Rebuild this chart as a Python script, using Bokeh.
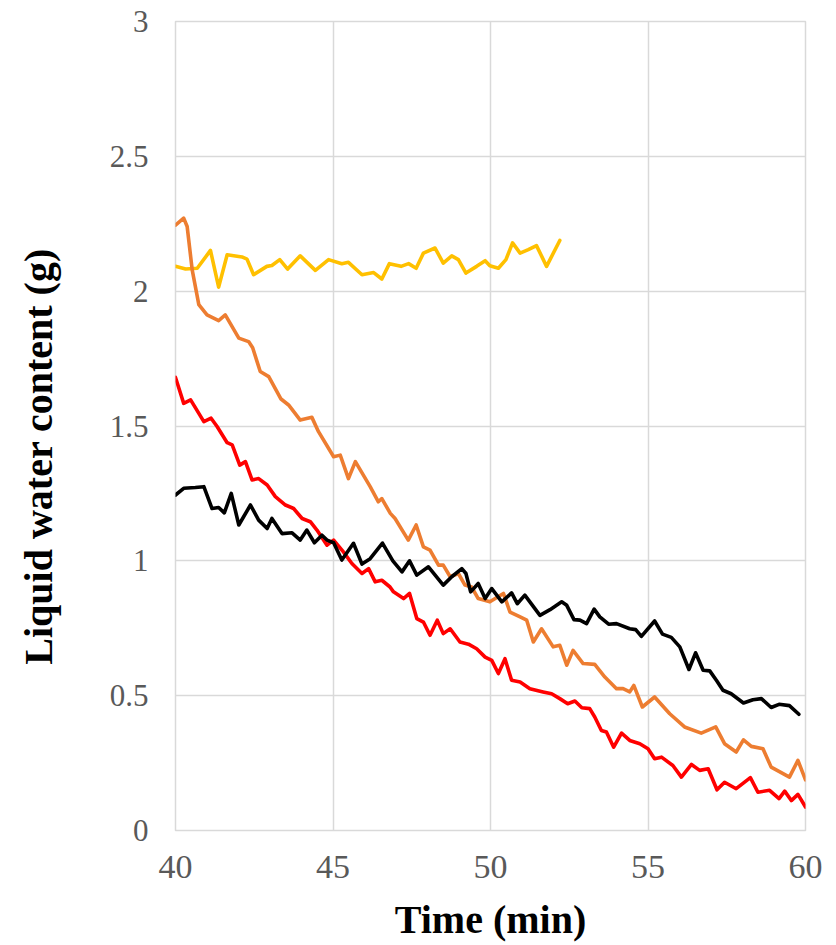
import math

from bokeh.embed import file_html
from bokeh.layouts import row
from bokeh.models import FixedTicker, Label, Range1d
from bokeh.plotting import figure
from bokeh.resources import INLINE

# Liquid water content (g) against time (min), four runs
yellow_t = [40.00, 40.32, 40.69, 41.11, 41.37, 41.64, 42.11, 42.27, 42.48, 42.90,
            43.06, 43.31, 43.56, 43.96, 44.44, 44.86, 45.28, 45.49, 45.92, 46.29,
            46.55, 46.79, 47.16, 47.40, 47.64, 47.87, 48.24, 48.50, 48.77, 48.98,
            49.22, 49.56, 49.83, 49.98, 50.25, 50.49, 50.70, 50.94, 51.20, 51.46,
            51.78, 52.20]
yellow_w = [2.092, 2.082, 2.085, 2.151, 2.015, 2.135, 2.127, 2.119, 2.061, 2.092,
            2.095, 2.117, 2.082, 2.131, 2.077, 2.117, 2.102, 2.107, 2.061, 2.069,
            2.045, 2.102, 2.092, 2.102, 2.085, 2.141, 2.160, 2.104, 2.131, 2.117,
            2.067, 2.092, 2.113, 2.094, 2.085, 2.117, 2.179, 2.141, 2.154, 2.169,
            2.092, 2.188]

orange_t = [40.00, 40.26, 40.37, 40.53, 40.74, 41.00, 41.37, 41.58, 42.01, 42.32,
            42.45, 42.69, 42.96, 43.35, 43.59, 43.96, 44.33, 44.54, 45.02, 45.23,
            45.49, 45.71, 46.18, 46.44, 46.55, 46.82, 46.97, 47.39, 47.64, 47.87,
            48.08, 48.35, 48.50, 48.72, 48.98, 49.19, 49.40, 49.61, 49.98, 50.41,
            50.62, 50.94, 51.15, 51.36, 51.62, 51.99, 52.20, 52.42, 52.62, 52.94,
            53.31, 53.63, 54.00, 54.21, 54.42, 54.55, 54.82, 55.21, 55.69, 56.16,
            56.69, 57.15, 57.43, 57.80, 58.03, 58.28, 58.65, 58.91, 59.49, 59.76,
            60.00]
orange_w = [2.245, 2.271, 2.240, 2.079, 1.950, 1.912, 1.891, 1.912, 1.826, 1.813,
            1.790, 1.702, 1.683, 1.600, 1.578, 1.522, 1.532, 1.479, 1.386, 1.392,
            1.305, 1.368, 1.275, 1.219, 1.231, 1.176, 1.157, 1.077, 1.133, 1.052,
            1.040, 0.984, 0.984, 0.941, 0.953, 0.910, 0.903, 0.860, 0.848, 0.879,
            0.810, 0.792, 0.780, 0.699, 0.748, 0.681, 0.687, 0.613, 0.668, 0.619,
            0.616, 0.569, 0.526, 0.526, 0.514, 0.538, 0.458, 0.495, 0.433, 0.384,
            0.361, 0.384, 0.322, 0.291, 0.336, 0.312, 0.303, 0.235, 0.198, 0.260,
            0.188]

red_t = [40.00, 40.26, 40.48, 40.90, 41.13, 41.32, 41.64, 41.80, 42.04, 42.22,
         42.43, 42.64, 42.91, 43.17, 43.49, 43.75, 44.02, 44.28, 44.49, 44.81,
         45.02, 45.33, 45.60, 45.92, 46.13, 46.34, 46.55, 46.81, 46.92, 47.24,
         47.43, 47.66, 47.87, 48.08, 48.31, 48.50, 48.72, 49.03, 49.30, 49.56,
         49.83, 50.04, 50.25, 50.46, 50.67, 50.94, 51.25, 51.67, 51.94, 52.20,
         52.45, 52.68, 52.90, 53.15, 53.31, 53.52, 53.68, 53.91, 54.16, 54.42,
         54.74, 55.00, 55.21, 55.43, 55.79, 56.06, 56.38, 56.64, 56.91, 57.19,
         57.43, 57.80, 58.25, 58.49, 58.86, 59.16, 59.34, 59.55, 59.76, 60.00]
red_w = [1.680, 1.584, 1.597, 1.516, 1.529, 1.498, 1.438, 1.430, 1.355, 1.368,
         1.300, 1.305, 1.281, 1.238, 1.207, 1.194, 1.157, 1.145, 1.114, 1.058,
         1.077, 1.033, 0.990, 0.953, 0.971, 0.922, 0.928, 0.903, 0.885, 0.860,
         0.879, 0.786, 0.773, 0.724, 0.780, 0.730, 0.748, 0.699, 0.691, 0.674,
         0.643, 0.631, 0.582, 0.637, 0.557, 0.551, 0.526, 0.514, 0.507, 0.489,
         0.470, 0.480, 0.455, 0.452, 0.421, 0.371, 0.365, 0.309, 0.361, 0.334,
         0.322, 0.303, 0.266, 0.272, 0.241, 0.198, 0.245, 0.223, 0.229, 0.151,
         0.179, 0.155, 0.196, 0.142, 0.149, 0.118, 0.146, 0.111, 0.134, 0.087]

black_t = [40.00, 40.26, 40.63, 40.90, 41.16, 41.37, 41.55, 41.77, 42.01, 42.38,
           42.64, 42.91, 43.06, 43.38, 43.70, 43.96, 44.17, 44.41, 44.65, 44.81,
           45.02, 45.28, 45.65, 45.92, 46.18, 46.57, 46.90, 47.19, 47.43, 47.66,
           48.03, 48.50, 48.77, 49.09, 49.22, 49.37, 49.61, 49.83, 50.04, 50.36,
           50.67, 50.85, 51.09, 51.57, 51.89, 52.26, 52.42, 52.65, 52.84, 53.05,
           53.29, 53.47, 53.75, 54.00, 54.42, 54.61, 54.79, 55.21, 55.46, 55.74,
           56.01, 56.30, 56.51, 56.75, 56.96, 57.17, 57.38, 57.64, 58.03, 58.33,
           58.60, 58.91, 59.16, 59.49, 59.79]
black_w = [1.244, 1.269, 1.272, 1.275, 1.194, 1.198, 1.178, 1.250, 1.133, 1.207,
           1.151, 1.120, 1.157, 1.101, 1.104, 1.077, 1.114, 1.067, 1.095, 1.077,
           1.067, 1.003, 1.065, 0.988, 1.008, 1.066, 1.000, 0.959, 1.000, 0.947,
           0.978, 0.910, 0.941, 0.971, 0.953, 0.885, 0.916, 0.860, 0.897, 0.848,
           0.881, 0.841, 0.873, 0.798, 0.819, 0.848, 0.835, 0.782, 0.780, 0.767,
           0.821, 0.792, 0.765, 0.767, 0.748, 0.745, 0.720, 0.777, 0.728, 0.716,
           0.681, 0.597, 0.659, 0.594, 0.592, 0.557, 0.520, 0.507, 0.473, 0.485,
           0.489, 0.456, 0.468, 0.463, 0.431]

x_ticks = [40, 45, 50, 55, 60]
y_ticks = [0, 0.5, 1, 1.5, 2, 2.5, 3]
y_tick_labels = ["0", "0.5", "1", "1.5", "2", "2.5", "3"]
y_title = "Liquid water content (g)"
x_title = "Time (min)"

GRID = "#d9d9d9"
TICK_COLOR = "#595959"
SERIF = "Liberation Serif"
TITLE_W = 70          # width of the strip holding the vertical title
TOTAL_W, TOTAL_H = 836, 945

# Main chart
p = figure(width=TOTAL_W - TITLE_W, height=TOTAL_H, output_backend="svg",
           toolbar_location=None,
           x_range=Range1d(40, 60), y_range=Range1d(0, 3),
           min_border_left=175 - TITLE_W, min_border_right=31,
           min_border_top=21, min_border_bottom=115)

p.background_fill_color = "white"
p.border_fill_color = "white"
p.outline_line_color = GRID
p.outline_line_width = 1.5

series = [
    (yellow_t, yellow_w, "#FFC000"),
    (orange_t, orange_w, "#ED7D31"),
    (red_t, red_w, "#FF0000"),
    (black_t, black_w, "#000000"),
]
for t, w, color in series:
    p.line(t, w, line_color=color, line_width=3.6, line_join="round", line_cap="round")

p.xaxis.ticker = FixedTicker(ticks=x_ticks)
p.yaxis.ticker = FixedTicker(ticks=y_ticks)
p.yaxis.major_label_overrides = {v: s for v, s in zip(y_ticks, y_tick_labels)}

for g in (p.xgrid, p.ygrid):
    g.grid_line_color = GRID
    g.grid_line_width = 1.5

for ax in (p.xaxis, p.yaxis):
    ax.axis_line_color = None
    ax.major_tick_line_color = None
    ax.minor_tick_line_color = None
    ax.major_label_text_font = SERIF
    ax.major_label_text_color = TICK_COLOR

p.xaxis.major_label_text_font_size = "34px"
p.xaxis.major_label_standoff = 19
p.yaxis.major_label_text_font_size = "31px"
p.yaxis.major_label_standoff = 21

p.xaxis.axis_label = x_title
p.xaxis.axis_label_text_font = SERIF
p.xaxis.axis_label_text_font_style = "bold"
p.xaxis.axis_label_text_font_size = "40px"
p.xaxis.axis_label_text_color = "black"
p.xaxis.axis_label_standoff = 16

# Narrow strip on the left carrying the rotated y-axis title; its ranges are
# in pixels so the title can sit slightly below the chart's vertical middle.
t = figure(width=TITLE_W, height=TOTAL_H, output_backend="svg", toolbar_location=None,
           x_range=Range1d(0, TITLE_W), y_range=Range1d(0, TOTAL_H),
           x_axis_location=None, y_axis_location=None,
           min_border_left=0, min_border_right=0, min_border_top=0, min_border_bottom=0)
t.outline_line_color = None
t.grid.visible = False
t.background_fill_color = "white"
t.border_fill_color = "white"
t.add_layout(Label(x=38, y=437, text=y_title, angle=math.pi / 2,
                   text_align="center", text_baseline="middle",
                   text_font=SERIF, text_font_style="bold", text_font_size="40px",
                   text_color="black"))

layout = row(t, p, spacing=0)
open("out.html", "w").write(file_html(layout, INLINE))
